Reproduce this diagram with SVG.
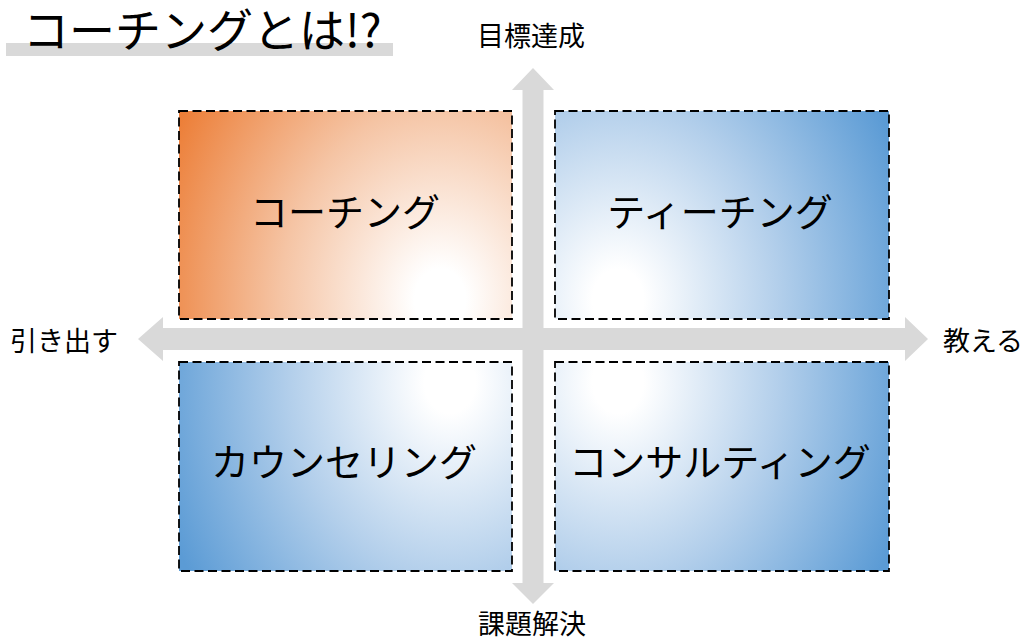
<svg xmlns="http://www.w3.org/2000/svg" width="1029" height="641" viewBox="0 0 1029 641">
<style>
  .box { stroke: #000; stroke-width: 1.8; stroke-dasharray: 9 4.5; }
  .lbl { font-family: "Noto Sans CJK JP", "Noto Sans", sans-serif; font-size: 38px; fill: #000; text-anchor: middle; dominant-baseline: central; }
  .axis { font-family: "Noto Sans CJK JP", "Noto Sans", sans-serif; font-size: 27px; fill: #000; text-anchor: middle; dominant-baseline: central; }
  .title { font-family: "Noto Sans CJK JP", "Noto Sans", sans-serif; font-size: 46px; fill: #000; dominant-baseline: central; }
  .arrow { fill: #D9D9D9; }
</style>
<defs>
  <radialGradient id="gTL" gradientUnits="userSpaceOnUse" cx="0" cy="0" r="1" gradientTransform="translate(440,300) scale(320,390)">
    <stop offset="0" stop-color="#FFFFFF"/>
    <stop offset="0.08" stop-color="#FFFFFF"/>
    <stop offset="0.5" stop-color="#F5C4A4"/>
    <stop offset="0.95" stop-color="#EC7C34"/>
  </radialGradient>
  <radialGradient id="gTR" gradientUnits="userSpaceOnUse" cx="0" cy="0" r="1" gradientTransform="translate(618,300) scale(320,390)">
    <stop offset="0" stop-color="#FFFFFF"/>
    <stop offset="0.08" stop-color="#FFFFFF"/>
    <stop offset="0.5" stop-color="#B3CFEB"/>
    <stop offset="0.95" stop-color="#5B9BD5"/>
  </radialGradient>
  <radialGradient id="gBL" gradientUnits="userSpaceOnUse" cx="0" cy="0" r="1" gradientTransform="translate(450,382) scale(320,390)">
    <stop offset="0" stop-color="#FFFFFF"/>
    <stop offset="0.08" stop-color="#FFFFFF"/>
    <stop offset="0.5" stop-color="#B3CFEB"/>
    <stop offset="0.95" stop-color="#5B9BD5"/>
  </radialGradient>
  <radialGradient id="gBR" gradientUnits="userSpaceOnUse" cx="0" cy="0" r="1" gradientTransform="translate(618,382) scale(320,390)">
    <stop offset="0" stop-color="#FFFFFF"/>
    <stop offset="0.08" stop-color="#FFFFFF"/>
    <stop offset="0.5" stop-color="#B3CFEB"/>
    <stop offset="0.95" stop-color="#5B9BD5"/>
  </radialGradient>
</defs>
<rect width="1029" height="641" fill="#FFFFFF"/>

<g id="title">
  <rect x="6" y="43" width="387" height="13" fill="#D9D9D9"/>
  <text class="title" x="23" y="27">コーチングとは!?</text>
</g>

<g id="connectors">
  <polygon class="arrow" points="533,68 554,90 543.5,90 543.5,583 554,583 533,604 512,583 522.5,583 522.5,90 512,90"/>
  <polygon class="arrow" points="138,339 163,317 163,328 905,328 905,317 928,339 905,361 905,350 163,350 163,361"/>
</g>

<g id="coaching">
  <rect class="box" x="179" y="111" width="333" height="208" fill="url(#gTL)"/>
  <text class="lbl" x="345" y="209">コーチング</text>
</g>
<g id="teaching">
  <rect class="box" x="555" y="111" width="334" height="208" fill="url(#gTR)"/>
  <text class="lbl" x="720" y="209">ティーチング</text>
</g>
<g id="counseling">
  <rect class="box" x="179" y="362" width="333" height="209" fill="url(#gBL)"/>
  <text class="lbl" x="344" y="459">カウンセリング</text>
</g>
<g id="consulting">
  <rect class="box" x="555" y="362" width="334" height="209" fill="url(#gBR)"/>
  <text class="lbl" x="720" y="459">コンサルティング</text>
</g>

<g id="axis-labels">
  <text class="axis" x="531" y="34">目標達成</text>
  <text class="axis" x="64" y="339">引き出す</text>
  <text class="axis" x="983" y="339">教える</text>
  <text class="axis" x="532" y="622">課題解決</text>
</g>
</svg>
